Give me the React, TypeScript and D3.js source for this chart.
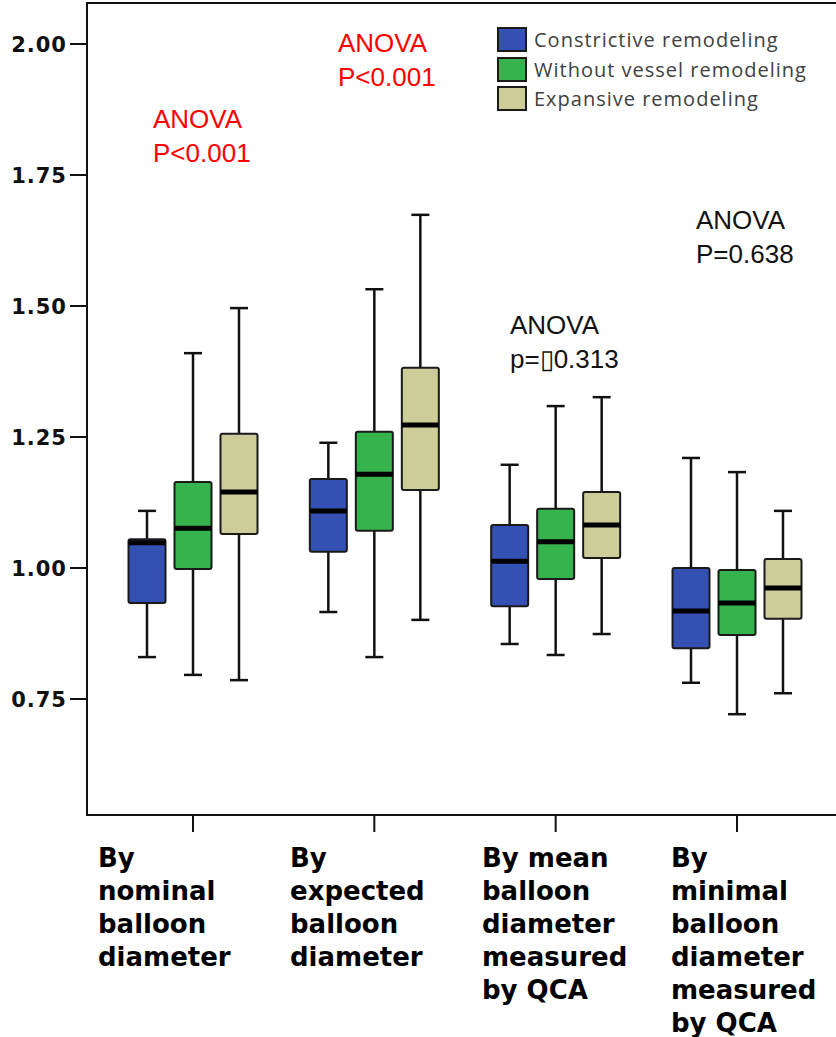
import React, { useEffect, useRef } from "react";
import * as d3 from "d3";

const categories = [
  ["By", "nominal", "balloon", "diameter"],
  ["By", "expected", "balloon", "diameter"],
  ["By mean", "balloon", "diameter", "measured", "by QCA"],
  ["By", "minimal", "balloon", "diameter", "measured", "by QCA"],
];
const seriesNames = ["Constrictive remodeling", "Without vessel remodeling", "Expansive remodeling"];
const seriesColors = ["#3450b3", "#37b34e", "#cdcd9a"];

// [whisker low, q1, median, q3, whisker high] per category
const constrictive = [
  [0.83, 0.933, 1.048, 1.055, 1.109],
  [0.916, 1.031, 1.109, 1.17, 1.239],
  [0.855, 0.927, 1.013, 1.082, 1.197],
  [0.781, 0.847, 0.918, 1.0, 1.21],
];
const withoutRemodeling = [
  [0.796, 0.998, 1.076, 1.164, 1.41],
  [0.83, 1.071, 1.179, 1.26, 1.532],
  [0.834, 0.979, 1.05, 1.113, 1.309],
  [0.721, 0.872, 0.933, 0.996, 1.183],
];
const expansive = [
  [0.786, 1.065, 1.145, 1.256, 1.496],
  [0.901, 1.149, 1.273, 1.382, 1.674],
  [0.874, 1.019, 1.082, 1.145, 1.326],
  [0.761, 0.903, 0.962, 1.017, 1.109],
];
const yTicks = [0.75, 1.0, 1.25, 1.5, 1.75, 2.0];
const anovaLabels = [
  { lines: ["ANOVA", "P<0.001"], color: "#ff0000" },
  { lines: ["ANOVA", "P<0.001"], color: "#ff0000" },
  { lines: ["ANOVA", "p=\u25AF0.313"], color: "#111111" },
  { lines: ["ANOVA", "P=0.638"], color: "#111111" },
];

const App = () => {
  const ref = useRef<SVGSVGElement>(null);

  useEffect(() => {
    const width = 836;
    const height = 1037;
    const svg = d3.select(ref.current).attr("width", width).attr("height", height);
    svg.selectAll("*").remove();

    const left = 87;
    const top = 3;
    const bottom = 815;

    const y = d3.scaleLinear().domain([1, 2]).range([568, 44]);
    const x = d3.scalePoint<number>().domain([0, 1, 2, 3]).range([193, 737]);
    const inner = d3.scalePoint<number>().domain([0, 1, 2]).range([-46, 46]);

    // frame
    svg.append("path")
      .attr("d", `M${width},${top}H${left}V${bottom}H${width}`)
      .attr("fill", "none")
      .attr("stroke", "#111")
      .attr("stroke-width", 2);

    // y axis
    const yAxis = svg.append("g");
    yTicks.forEach((t) => {
      yAxis.append("line")
        .attr("x1", 70).attr("x2", left)
        .attr("y1", y(t)).attr("y2", y(t))
        .attr("stroke", "#111").attr("stroke-width", 2);
      yAxis.append("text")
        .attr("x", 67).attr("y", y(t) + 8)
        .attr("text-anchor", "end")
        .attr("font-family", "DejaVu Sans")
        .attr("font-weight", "bold")
        .attr("font-size", 21)
        .attr("letter-spacing", 1)
        .attr("fill", "#111")
        .text(t.toFixed(2));
    });

    // x ticks + labels
    const labelX = [98, 290, 482, 671];
    categories.forEach((lines, i) => {
      svg.append("line")
        .attr("x1", x(i)).attr("x2", x(i))
        .attr("y1", bottom).attr("y2", 832)
        .attr("stroke", "#111").attr("stroke-width", 2);
      const t = svg.append("text")
        .attr("font-family", "DejaVu Sans")
        .attr("font-weight", "bold")
        .attr("font-size", 26)
        .attr("fill", "#000");
      lines.forEach((ln, j) => {
        t.append("tspan").attr("x", labelX[i]).attr("y", 867 + j * 33).text(ln);
      });
    });

    // boxes
    const allSeries = [constrictive, withoutRemodeling, expansive];
    const boxW = 37;
    const capW = 18;
    allSeries.forEach((series, s) => {
      series.forEach((d, i) => {
        const cx = (x(i) as number) + (inner(s) as number);
        const [lo, q1, med, q3, hi] = d;
        const g = svg.append("g");
        g.append("line").attr("x1", cx).attr("x2", cx).attr("y1", y(hi)).attr("y2", y(lo))
          .attr("stroke", "#111").attr("stroke-width", 2.5);
        [lo, hi].forEach((v) => {
          g.append("line").attr("x1", cx - capW / 2).attr("x2", cx + capW / 2)
            .attr("y1", y(v)).attr("y2", y(v))
            .attr("stroke", "#111").attr("stroke-width", 2.5);
        });
        g.append("rect")
          .attr("x", cx - boxW / 2).attr("width", boxW)
          .attr("y", y(q3)).attr("height", y(q1) - y(q3))
          .attr("rx", 2)
          .attr("fill", seriesColors[s])
          .attr("stroke", "#1a1a1a").attr("stroke-width", 2);
        g.append("line").attr("x1", cx - boxW / 2).attr("x2", cx + boxW / 2)
          .attr("y1", y(med)).attr("y2", y(med))
          .attr("stroke", "#000").attr("stroke-width", 5);
      });
    });

    // legend
    const legend = svg.append("g");
    const legendY = [28, 58, 87];
    seriesNames.forEach((name, s) => {
      legend.append("rect")
        .attr("x", 498).attr("y", legendY[s])
        .attr("width", 28).attr("height", 23)
        .attr("fill", seriesColors[s])
        .attr("stroke", "#1a1a1a").attr("stroke-width", 2);
      legend.append("text")
        .attr("x", 534).attr("y", legendY[s] + 19)
        .attr("font-family", "Open Sans")
        .attr("font-size", 20)
        .attr("letter-spacing", 1)
        .attr("fill", "#404040")
        .text(name);
    });

    // ANOVA annotations
    const annoPos = [
      [153, 128],
      [338, 52],
      [510, 334],
      [696, 229],
    ];
    anovaLabels.forEach((a, i) => {
      const t = svg.append("text")
        .attr("font-family", "Liberation Sans")
        .attr("font-size", 26)
        .attr("fill", a.color);
      a.lines.forEach((ln, j) => {
        t.append("tspan").attr("x", annoPos[i][0]).attr("y", annoPos[i][1] + j * 34).text(ln);
      });
    });
  }, []);

  return (
    <div>
      <svg ref={ref} style={{ position: "absolute", left: 0, top: 0, background: "#fff" }}></svg>
    </div>
  );
};

export default App;
